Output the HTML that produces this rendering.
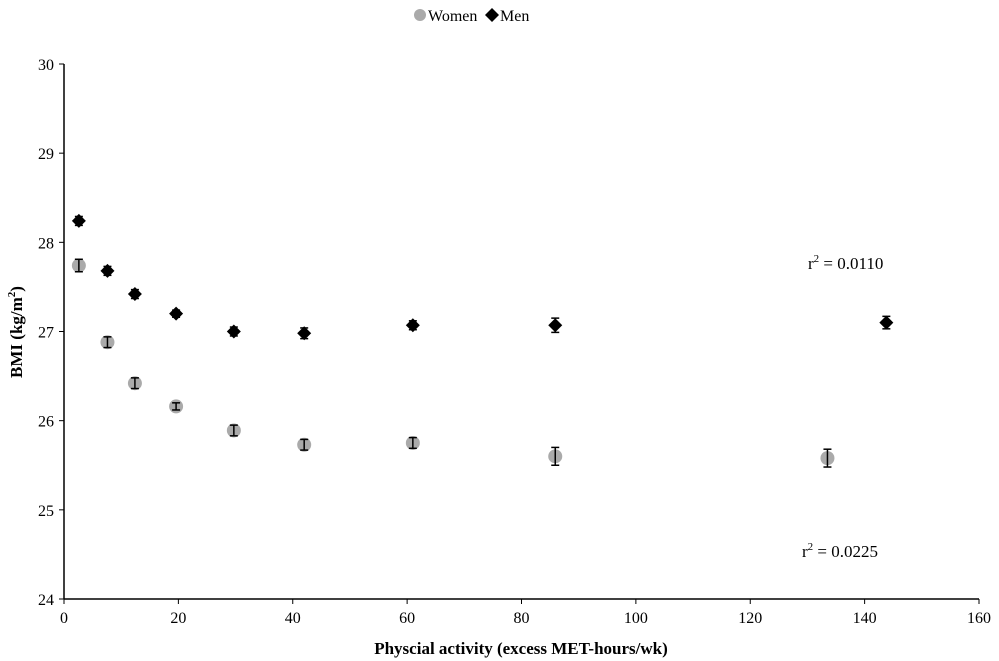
<!DOCTYPE html>
<html><head><meta charset="utf-8"><style>
body{margin:0;background:#fff;}
svg{display:block;font-family:"Liberation Serif",serif;}
</style></head><body>
<svg id="chart" width="999" height="661">
<g id="legend">
  <circle cx="420" cy="15" r="6" fill="#aaaaaa"/>
  <text x="428" y="21" font-size="16">Women</text>
  <path d="M492,8 L499,15 L492,22 L485,15 Z" fill="#000"/>
  <text x="500" y="21" font-size="16">Men</text>
</g>
<g id="axes"></g>
<g id="marks"></g>
<g id="errs"></g>
<text x="808" y="269" font-size="17">r<tspan font-size="11" dy="-7">2</tspan><tspan dy="7"> = 0.0110</tspan></text>
<text x="802" y="557" font-size="17">r<tspan font-size="11" dy="-7">2</tspan><tspan dy="7"> = 0.0225</tspan></text>
<text x="521" y="654" font-size="17" font-weight="bold" text-anchor="middle">Physcial activity (excess MET-hours/wk)</text>
<text transform="translate(22,332) rotate(-90)" font-size="17" font-weight="bold" text-anchor="middle">BMI (kg/m<tspan font-size="11" dy="-7">2</tspan><tspan dy="7">)</tspan></text>
</svg>
<script>
const xTicks=[0,20,40,60,80,100,120,140,160];
const yTicks=[24,25,26,27,28,29,30];
const menX=[2.6,7.6,12.4,19.6,29.7,42,61,85.9,143.8];
const menY=[28.24,27.68,27.42,27.2,27.0,26.98,27.07,27.07,27.1];
const menErr=[0.05,0.05,0.05,0.04,0.05,0.06,0.05,0.08,0.07];
const womenX=[2.6,7.6,12.4,19.6,29.7,42,61,85.9,133.5];
const womenY=[27.74,26.88,26.42,26.16,25.89,25.73,25.75,25.6,25.58];
const womenErr=[0.07,0.06,0.06,0.04,0.06,0.06,0.06,0.1,0.1];
const NS="http://www.w3.org/2000/svg";
const X0=64,X1=979,Y0=599,Y1=64;
const xs=v=>X0+(v-0)/(160-0)*(X1-X0);
const ys=v=>Y0-(v-24)/(30-24)*(Y0-Y1);
function mk(tag,attrs,parent){const e=document.createElementNS(NS,tag);for(const k in attrs)e.setAttribute(k,attrs[k]);parent.appendChild(e);return e;}
const ax=document.getElementById('axes');
let l=mk('line',{x1:X0,y1:Y0,x2:X1,y2:Y0,stroke:'#000','stroke-width':1.5},ax);


l=mk('line',{x1:X0,y1:Y0,x2:X0,y2:Y1,stroke:'#000','stroke-width':1.5},ax);


xTicks.forEach(t=>{
  const tk=mk('line',{x1:xs(t),y1:Y0,x2:xs(t),y2:Y0+5,stroke:'#000'},ax);
  
  
  const tx=mk('text',{x:xs(t),y:Y0+24,'font-size':16,'text-anchor':'middle'},ax);
  tx.textContent=t;
  
  
});
yTicks.forEach(t=>{
  const tk=mk('line',{x1:X0-5,y1:ys(t),x2:X0,y2:ys(t),stroke:'#000'},ax);
  
  
  const tx=mk('text',{x:X0-10,y:ys(t)+6,'font-size':16,'text-anchor':'end'},ax);
  tx.textContent=t;
  
  
});
const mg=document.getElementById('marks');
const eg=document.getElementById('errs');
function errBar(x,y,e){
  const g=mk('g',{stroke:'#000','stroke-width':1.5},eg);
  
  
  const cx=xs(x),a=ys(y+e),b=ys(y-e);
  mk('line',{x1:cx,y1:a,x2:cx,y2:b},g);
  mk('line',{x1:cx-4,y1:a,x2:cx+4,y2:a},g);
  mk('line',{x1:cx-4,y1:b,x2:cx+4,y2:b},g);
}
womenX.forEach((x,i)=>{
  errBar(x,womenY[i],womenErr[i]);
  const c=mk('circle',{cx:xs(x),cy:ys(womenY[i]),r:7,fill:'#aaaaaa'},mg);
  
  
});
menX.forEach((x,i)=>{
  errBar(x,menY[i],menErr[i]);
  const cx=xs(x),cy=ys(menY[i]);
  const p=mk('path',{d:`M${cx},${cy-7} L${cx+7},${cy} L${cx},${cy+7} L${cx-7},${cy} Z`,fill:'#000'},mg);
  
  
});
</script>
</body></html>
